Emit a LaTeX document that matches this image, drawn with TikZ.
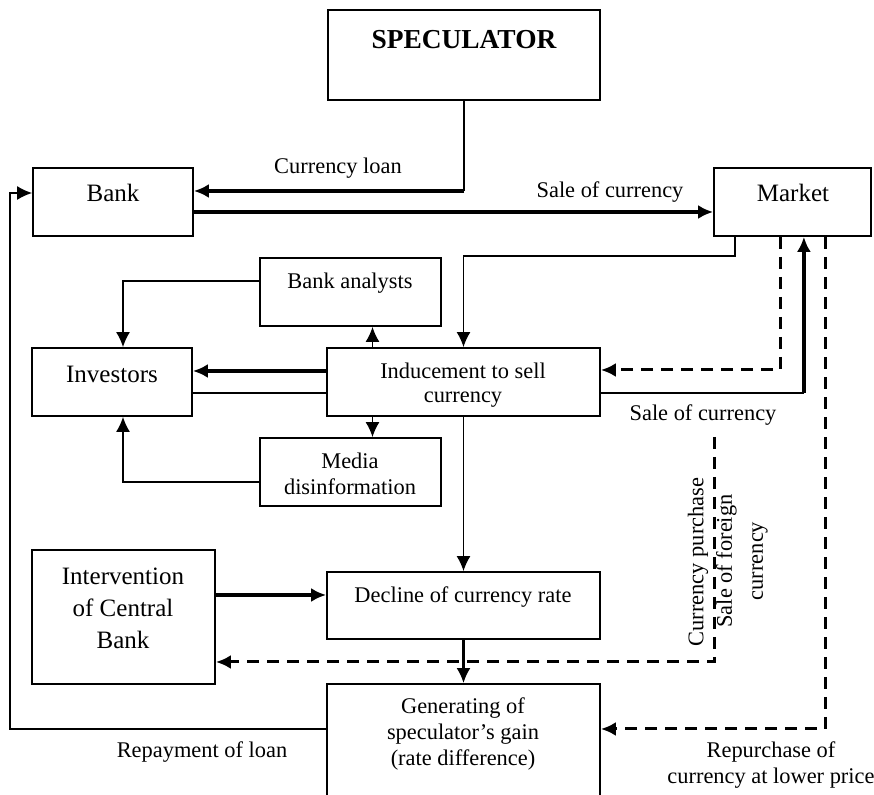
\documentclass[tikz,border=0pt]{standalone}
\usepackage{fontspec}
\setmainfont{Liberation Serif}
\usetikzlibrary{positioning, calc, arrows.meta}

\begin{document}
\begin{tikzpicture}[x=0.5pt,y=-0.5pt,>={Latex[length=7.5pt,width=7pt]},
  box/.style={draw,line width=0.9pt,inner sep=0pt},
  txt/.style={font=\fontsize{11.2}{13}\selectfont,align=center,inner sep=0pt},
  bigtxt/.style={txt,font=\fontsize{12.5}{16}\selectfont},
  thinl/.style={line width=0.8pt},
  thickl/.style={line width=2pt},
  dashl/.style={line width=1.5pt,dash pattern=on 6pt off 4pt}]

\useasboundingbox (0,0) rectangle (874,795);

% les boites
\node[box,minimum width=136pt,minimum height=45pt] (spec) at (464,55) {};
\node[txt,font=\fontsize{13.7}{16}\selectfont\bfseries] (spect) at (464,40) {SPECULATOR};

\node[box,minimum width=80pt,minimum height=34pt] (bank) at (113,202) {};
\node[bigtxt] (bankt) at (113,193) {Bank};

\node[box,minimum width=78.5pt,minimum height=34pt] (market) at (792.5,202) {};
\node[bigtxt] (markett) at (793,193) {Market};

\node[box,minimum width=90.5pt,minimum height=34pt] (analysts) at (350.5,292) {};
\node[txt] (analystst) at (350,283) {Bank analysts};

\node[box,minimum width=80pt,minimum height=34pt] (investors) at (112,382) {};
\node[bigtxt] (investorst) at (112,374) {Investors};

\node[box,minimum width=136.5pt,minimum height=34pt] (induce) at (463.5,382) {};
\node[txt,font=\fontsize{11.2}{12}\selectfont] (inducet) at (463,385) {Inducement to sell\\currency};

\node[box,minimum width=90.5pt,minimum height=34pt] (media) at (350.5,472) {};
\node[txt] (mediat) at (350,474) {Media\\disinformation};

\node[box,minimum width=91.5pt,minimum height=67pt] (interv) at (123.5,617) {};
\node[bigtxt] (intervt) at (123,608) {Intervention\\of Central\\Bank};

\node[box,minimum width=136.5pt,minimum height=33.5pt] (decline) at (463.5,605.5) {};
\node[txt] (declinet) at (463,597) {Decline of currency rate};

\node[box,minimum width=136.5pt,minimum height=58pt] (gain) at (463.5,742) {};
\node[txt] (gaint) at (463,734) {Generating of\\speculator’s gain\\(rate difference)};

% les fleches
\coordinate (loan) at (464,191);
\draw[thinl] (spec.south) -- (loan);
\draw[thickl,->] (loan) -- ($(bank.east)+(0,-11)$);
\node[txt] (loant) at (338,168) {Currency loan};

\draw[thickl,->] ($(bank.east)+(0,10)$) -- ($(market.west)+(0,10)$);
\node[txt] (salet) at (610,192) {Sale of currency};

\draw[thinl,->] ($(gain.west)+(0,-13)$) -| ($(bank.west)+(-22,-9)$) -- ($(bank.west)+(0,-9)$);
\node[txt] (repayt) at (202,752) {Repayment of loan};

\draw[thinl,->] ($(market.south west)+(22,0)$) |- ($(induce.north)+(0,-91)$) -- (induce.north);
\draw[dashl,->] ($(market.south west)+(67,0)$) |- ($(induce.east)+(0,-12)$);
\draw[thinl] ($(induce.east)+(0,11)$) -- ++(203,0) coordinate (sc);
\draw[thickl,->] (sc) -- (sc |- market.south);
\node[txt] (sale2t) at (703,415) {Sale of currency};

\draw[dashl,->] ($(market.south west)+(112,0)$) |- ($(gain.east)+(0,-13)$);
\node[txt] (repurt) at (771,765) {Repurchase of\\currency at lower price};

\coordinate (cp) at (714,437);
\draw[dashl,->] (cp) |- ($(interv.east)+(0,45)$);
\node[txt,rotate=90] (cpurt) at (698,562) {Currency purchase};
\node[txt,rotate=90,font=\fontsize{11.2}{15.5}\selectfont] (sfort) at (742,561) {Sale of foreign\\currency};

\draw[thinl,->] ($(analysts.west)+(0,-11)$) -| ($(investors.north)+(11,0)$);
\draw[thinl,->] ($(media.west)+(0,10)$) -| ($(investors.south)+(11,0)$);
\draw[thinl,->] ($(induce.north)+(-91,0)$) -- ($(analysts.south)+(22,0)$);
\draw[thinl,->] ($(induce.south)+(-91,0)$) -- ($(media.north)+(22,0)$);
\draw[thickl,->] ($(induce.west)+(0,-11)$) -- ($(investors.east)+(0,-11)$);
\draw[thinl] ($(induce.west)+(0,11)$) -- ($(investors.east)+(0,11)$);

\draw[thinl,->] (induce.south) -- (decline.north);
\draw[thickl,->] ($(interv.east)+(0,-22)$) -- ($(decline.west)+(0,-10.5)$);
\draw[line width=1.2pt,->] (decline.south) -- (gain.north);
\end{tikzpicture}
\end{document}
